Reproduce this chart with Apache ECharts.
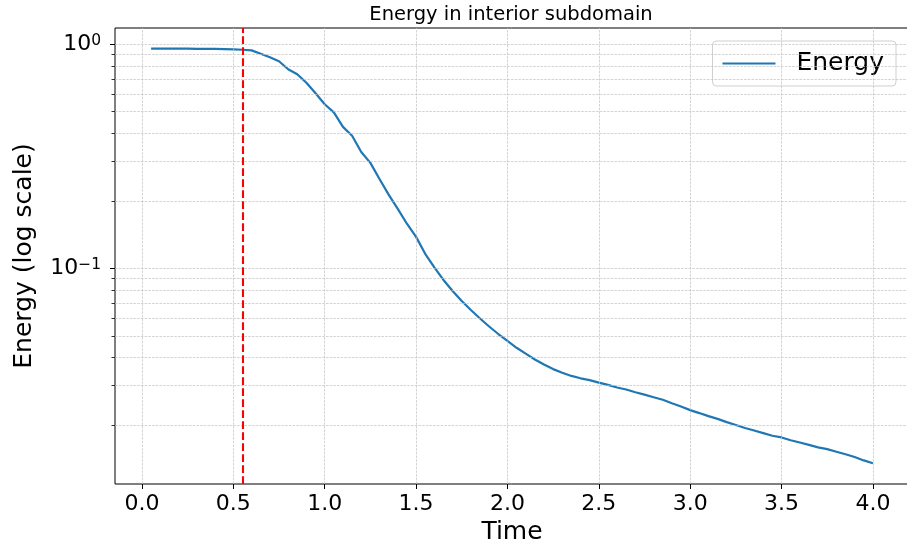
<!DOCTYPE html>
<html>
<head>
<meta charset="utf-8">
<script src="https://cdn.jsdelivr.net/npm/echarts@6/dist/echarts.min.js"></script>
<style>
  html, body { margin: 0; padding: 0; background: #ffffff; }
  #chart { width: 907px; height: 551px; }
</style>
</head>
<body>
<div id="chart"></div>
<script>
// Sampling times of the simulation
const times = [
  0.05, 0.10, 0.15, 0.20, 0.25, 0.30, 0.35, 0.40, 0.45, 0.50,
  0.55, 0.60, 0.65, 0.70, 0.75, 0.80, 0.85, 0.90, 0.95, 1.00,
  1.05, 1.10, 1.15, 1.20, 1.25, 1.30, 1.35, 1.40, 1.45, 1.50,
  1.55, 1.60, 1.65, 1.70, 1.75, 1.80, 1.85, 1.90, 1.95, 2.00,
  2.05, 2.10, 2.15, 2.20, 2.25, 2.30, 2.35, 2.40, 2.45, 2.50,
  2.55, 2.60, 2.65, 2.70, 2.75, 2.80, 2.85, 2.90, 2.95, 3.00,
  3.05, 3.10, 3.15, 3.20, 3.25, 3.30, 3.35, 3.40, 3.45, 3.50,
  3.55, 3.60, 3.65, 3.70, 3.75, 3.80, 3.85, 3.90, 3.95, 4.00
];

// Energy contained in the interior subdomain at each time
const energy = [
  0.953, 0.953, 0.953, 0.953, 0.953, 0.952, 0.952, 0.951, 0.950, 0.947,
  0.943, 0.937, 0.905, 0.873, 0.838, 0.772, 0.733, 0.672, 0.603, 0.539,
  0.496, 0.427, 0.390, 0.330, 0.295, 0.250, 0.213, 0.184, 0.158, 0.138,
  0.116, 0.101, 0.0887, 0.0792, 0.0714, 0.0651, 0.0597, 0.0550, 0.0509, 0.0474,
  0.0442, 0.0416, 0.0392, 0.0372, 0.0355, 0.0342, 0.0331, 0.0323, 0.0317, 0.0309,
  0.0302, 0.0294, 0.0288, 0.0280, 0.0273, 0.0266, 0.0259, 0.0250, 0.0242, 0.0233,
  0.0226, 0.0219, 0.0213, 0.0206, 0.0200, 0.0194, 0.0189, 0.0184, 0.0179, 0.0176,
  0.0171, 0.0167, 0.0163, 0.0159, 0.0156, 0.0152, 0.0148, 0.0144, 0.0139, 0.0135
];

// Axis ticks
const xTicks = [0.0, 0.5, 1.0, 1.5, 2.0, 2.5, 3.0, 3.5, 4.0];
const yMajorTicks = [0.1, 1];
const yMinorTicks = [
  0.02, 0.03, 0.04, 0.05, 0.06, 0.07, 0.08, 0.09,
  0.2, 0.3, 0.4, 0.5, 0.6, 0.7, 0.8, 0.9
];

// Marker for the onset time
const onsetTime = 0.55;

// Axis extents
const xRange = [-0.1475, 4.1975];
const yRange = [0.01091, 1.179];

const FONT = 'DejaVu Sans';
const INK = '#000000';
const GRID_LINE = { color: '#c2c2c2', width: 0.7, type: [2.6, 1.1] };

function powerLabel(v) {
  const exp = Math.round(Math.log10(v));
  const expText = exp < 0 ? '\u2212' + (-exp) : String(exp);
  return '{b|10}{s|' + expText + '}';
}

const gridLineData = []
  .concat(xTicks.map(v => ({ xAxis: v })))
  .concat(yMajorTicks.concat(yMinorTicks).map(v => ({ yAxis: v })));

const chart = echarts.init(document.getElementById('chart'), null, { renderer: 'canvas' });

chart.setOption({
  animation: false,
  backgroundColor: '#ffffff',
  textStyle: { fontFamily: FONT },
  title: {
    text: 'Energy in interior subdomain',
    left: 511,
    top: 5,
    textAlign: 'center',
    padding: 0,
    textStyle: { fontFamily: FONT, fontSize: 19.5, fontWeight: 'normal', color: INK }
  },
  legend: {
    data: ['Energy'],
    right: 11,
    top: 41,
    padding: [10, 12, 10, 10],
    backgroundColor: 'rgba(255,255,255,0.85)',
    borderColor: '#cfcfcf',
    borderWidth: 1,
    borderRadius: 4,
    itemWidth: 53,
    itemHeight: 2,
    icon: 'rect',
    selectedMode: false,
    textStyle: { fontFamily: FONT, fontSize: 25, color: INK, padding: [0, 0, 0, 16] }
  },
  grid: {
    left: 115,
    top: 28,
    right: -2,
    bottom: 67,
    show: true,
    borderColor: '#000000',
    borderWidth: 1,
    backgroundColor: 'transparent',
    containLabel: false,
    outerBoundsMode: 'none'
  },
  xAxis: {
    type: 'value',
    min: xRange[0],
    max: xRange[1],
    name: 'Time',
    nameLocation: 'middle',
    nameGap: 36,
    nameTextStyle: { fontFamily: FONT, fontSize: 25, color: INK },
    axisLine: { show: false, onZero: false },
    axisTick: {
      show: true, length: 5, inside: false,
      customValues: xTicks,
      lineStyle: { color: '#000', width: 1 }
    },
    axisLabel: {
      show: true, margin: 9,
      customValues: xTicks,
      fontFamily: FONT, fontSize: 22, color: INK,
      formatter: v => Number(v).toFixed(1)
    },
    splitLine: { show: false }
  },
  yAxis: [
    {
      type: 'log',
      logBase: 10,
      position: 'left',
      min: yRange[0],
      max: yRange[1],
      name: 'Energy (log scale)',
      nameLocation: 'middle',
      nameRotate: 90,
      nameGap: 78,
      nameTextStyle: { fontFamily: FONT, fontSize: 25, color: INK },
      axisLine: { show: false, onZero: false },
      axisTick: {
        show: true, length: 5, inside: false,
        customValues: yMajorTicks,
        lineStyle: { color: '#000', width: 1 }
      },
      axisLabel: {
        show: true, margin: 14,
        customValues: yMajorTicks,
        formatter: powerLabel,
        rich: {
          b: { fontFamily: FONT, fontSize: 22, color: INK, lineHeight: 22, padding: [2, 0, 0, 0], verticalAlign: 'bottom' },
          s: { fontFamily: FONT, fontSize: 15.5, color: INK, lineHeight: 16, verticalAlign: 'top' }
        }
      },
      splitLine: { show: false },
      minorTick: { show: false },
      minorSplitLine: { show: false }
    },
    {
      type: 'log',
      logBase: 10,
      position: 'left',
      offset: 0,
      min: yRange[0],
      max: yRange[1],
      axisLine: { show: false, onZero: false },
      axisTick: {
        show: true, length: 3.5, inside: false,
        customValues: yMinorTicks,
        lineStyle: { color: '#000', width: 0.8 }
      },
      axisLabel: { show: false },
      splitLine: { show: false }
    }
  ],
  series: [
    {
      name: 'gridlines',
      type: 'line',
      data: [],
      z: 1,
      silent: true,
      markLine: {
        silent: true,
        symbol: ['none', 'none'],
        label: { show: false },
        lineStyle: GRID_LINE,
        emphasis: { disabled: true },
        data: gridLineData
      }
    },
    {
      name: 'Energy',
      type: 'line',
      data: times.map((t, i) => [t, energy[i]]),
      showSymbol: false,
      symbol: 'none',
      smooth: false,
      z: 3,
      color: '#1f77b4',
      lineStyle: { color: '#1f77b4', width: 2.2 }
    },
    {
      name: 'onset',
      type: 'line',
      data: [],
      z: 4,
      silent: true,
      markLine: {
        silent: true,
        symbol: ['none', 'none'],
        label: { show: false },
        emphasis: { disabled: true },
        lineStyle: { color: '#ff0000', width: 2.1, type: [7.7, 3.3] },
        data: [{ xAxis: onsetTime }]
      }
    }
  ]
});
</script>
</body>
</html>
